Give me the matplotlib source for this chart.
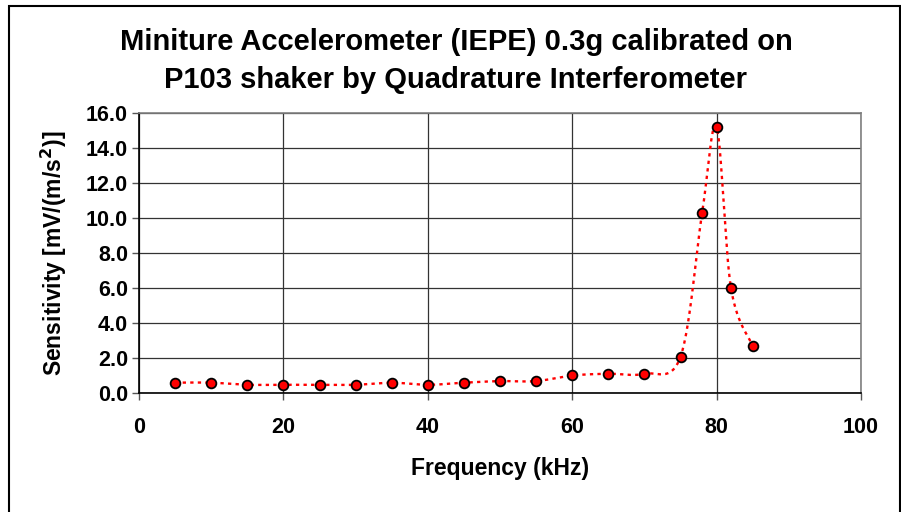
import numpy as np
import matplotlib
matplotlib.use("Agg")
import matplotlib.pyplot as plt
from matplotlib.patches import Rectangle

plt.rcParams['font.family'] = ['Liberation Sans', 'DejaVu Sans']

# measured sensitivity vs frequency
freq_khz = [5, 10, 15, 20, 25, 30, 35, 40, 45, 50, 55, 60, 65, 70, 75, 78, 80, 82, 85]
sens = [0.59, 0.59, 0.47, 0.47, 0.47, 0.47, 0.59, 0.47, 0.59, 0.68, 0.68,
        1.0, 1.1, 1.1, 2.07, 10.3, 15.17, 5.97, 2.69]

xticks = [0, 20, 40, 60, 80, 100]
yticks = [0, 2, 4, 6, 8, 10, 12, 14, 16]


def smooth(x, y, n=30):
    # excel-like smoothed line (catmull-rom as cubic bezier)
    p = np.column_stack([x, y]).astype(float)
    pts = [p[0]]
    for i in range(len(p) - 1):
        p0 = p[i - 1] if i > 0 else p[i]
        p1, p2 = p[i], p[i + 1]
        p3 = p[i + 2] if i + 2 < len(p) else p[i + 1]
        c1 = p1 + (p2 - p0) / 6
        c2 = p2 - (p3 - p1) / 6
        t = np.linspace(0, 1, n)[1:, None]
        b = (1 - t) ** 3 * p1 + 3 * (1 - t) ** 2 * t * c1 + 3 * (1 - t) * t ** 2 * c2 + t ** 3 * p2
        pts.extend(b)
    pts = np.array(pts)
    return pts[:, 0], pts[:, 1]


fig = plt.figure(figsize=(9.01, 5.12), dpi=100)
ax = fig.add_axes([0.1543, 0.2324, 0.8013, 0.5475])

sx, sy = smooth(freq_khz, sens)
ax.plot(sx, sy, color='red', lw=1.7, dashes=(1.4, 1.8), zorder=3)
ax.plot(freq_khz, sens, ls='none', marker='o', ms=7, mfc='red', mec='black', mew=1.3, zorder=4)

ax.set_xlim(0, 100)
ax.set_ylim(0, 16)
ax.set_xticks(xticks)
ax.set_yticks(yticks)
ax.set_xticklabels([str(v) for v in xticks])
ax.set_yticklabels([f"{v:.1f}" for v in yticks])
ax.grid(True, color='#333333', lw=0.9)
ax.set_axisbelow(True)
for s in ['left', 'bottom']:
    ax.spines[s].set_color('black')
    ax.spines[s].set_linewidth(1.2)
for s in ['top', 'right']:
    ax.spines[s].set_color('#808080')
    ax.spines[s].set_linewidth(1.2)
ax.tick_params(direction='out', length=5, width=1, color='#555555', labelsize=15.5, pad=3)
for lab in ax.get_xticklabels() + ax.get_yticklabels():
    lab.set_fontweight('bold')
ax.tick_params(axis='x', pad=12)

ax.set_xlabel('Frequency (kHz)', fontsize=16.5, fontweight='bold', labelpad=14)
ax.set_ylabel('Sensitivity [mV/(m/s$^\\mathbf{2}$)]', fontsize=16.5, fontweight='bold', labelpad=12)

fig.text(0.506, 1 - 42 / 512, 'Miniture Accelerometer (IEPE) 0.3g calibrated on',
         ha='center', va='center', fontsize=21, fontweight='bold')
fig.text(0.506, 1 - 80 / 512, 'P103 shaker by Quadrature Interferometer',
         ha='center', va='center', fontsize=21, fontweight='bold')

fig.patches.append(Rectangle((8.5 / 901, -0.05), (899.5 - 8.5) / 901, 1.05 - 5.5 / 512,
                             transform=fig.transFigure, fill=False, ec='black', lw=1.5))

fig.savefig('out.png', dpi=100)
